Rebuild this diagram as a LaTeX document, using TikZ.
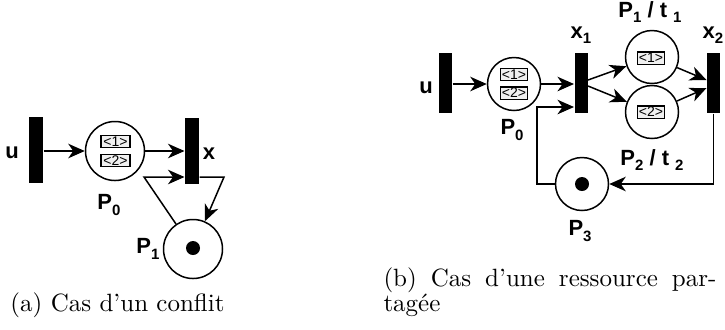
\documentclass[tikz,border=0pt]{standalone}
\usepackage{fontspec}
\newfontfamily\lab{Liberation Sans}
\usetikzlibrary{arrows.meta}
\newcommand\sbs[1]{\raisebox{-0.45ex}{\fontsize{6}{6}\selectfont #1}}
\begin{document}
\begin{tikzpicture}[x=0.4pt,y=-0.4pt,
  arr/.style={-{Stealth[length=6.6pt,width=5.8pt,inset=2pt]}, line width=0.6pt},
  barL/.style={rectangle, fill=black, inner sep=0, minimum width=5.6pt, minimum height=26.4pt},
  barR/.style={rectangle, fill=black, inner sep=0, minimum width=5.2pt, minimum height=24pt},
  placeL/.style={circle, draw, line width=0.6pt, minimum size=23.6pt, inner sep=0},
  placeR/.style={circle, draw, line width=0.6pt, minimum size=21.2pt, inner sep=0},
  tok/.style={circle, fill=black, minimum size=5.6pt, inner sep=0},
  mbox/.style={rectangle, draw, fill=gray!12, line width=0.5pt, inner sep=0, minimum height=4.9pt, font=\lab\fontsize{5.6}{5}\selectfont},
  lbl/.style={font=\lab\bfseries\fontsize{8.8}{9}\selectfont, inner sep=0},
  captxt/.style={inner sep=0, anchor=base west, font=\fontsize{10}{12}\selectfont}
]
\useasboundingbox (0,0) rectangle (725,329);
% ---------- (a) ----------
\node[barL] (uL) at (36,150) {};
\node[placeL] (P0L) at (115,151) {};
\node[mbox, minimum width=11.6pt] (b1L) at (115.5,141.5) {<1>};
\node[mbox, minimum width=11.6pt] (b2L) at (115.5,160.5) {<2>};
\node[barL] (xL) at (192,150.5) {};
\node[placeL] (P1L) at (193,249) {};
\node[tok] (tL) at (193,248) {};
\coordinate (aL) at (144,177);
\coordinate (bL) at (224,177);
\node[lbl] (luL) at (12,153) {u};
\node[lbl] (lxL) at (209,154) {x};
\node[lbl] (lP0L) at (109,205) {P\sbs{0}};
\node[lbl] (lP1L) at (148,249) {P\sbs{1}};
\draw[arr] (uL.east |- P0L) -- (P0L);
\draw[arr] (P0L) -- (xL.west |- P0L);
\draw[arr] (P1L) -- (aL) -- (aL -| xL.west);
\draw[arr] (xL.east |- bL) -- (bL) -- (P1L);
% ---------- (b) ----------
\node[barR] (uR) at (445.5,83) {};
\node[placeR] (P0R) at (514,84) {};
\node[mbox, minimum width=10.6pt] (b1R) at (514,74.5) {<1>};
\node[mbox, minimum width=10.6pt] (b2R) at (514,93) {<2>};
\node[barR] (x1) at (581,83) {};
\node[placeR] (P1R) at (652,57) {};
\node[mbox, minimum width=10.6pt] (b3R) at (651,58) {<1>};
\node[placeR] (P2R) at (652,112) {};
\node[mbox, minimum width=10.6pt] (b4R) at (651,112) {<2>};
\node[barR] (x2) at (713.5,83) {};
\node[placeR] (P3) at (582,184) {};
\node[tok] (tR) at (582,184) {};
\coordinate (cl) at (537,107);
\node[lbl] (luR) at (426,88) {u};
\node[lbl] (lP0R) at (512,130) {P\sbs{0}};
\node[lbl] (lx1) at (581,35) {x\sbs{1}};
\node[lbl] (lx2) at (713,35) {x\sbs{2}};
\node[lbl] (lP1R) at (650,12) {P\sbs{1} / t \sbs{1}};
\node[lbl] (lP2R) at (652,160) {P\sbs{2} / t \sbs{2}};
\node[lbl] (lP3) at (580,231) {P\sbs{3}};
\draw[arr] (uR.east |- P0R) -- (P0R);
\draw[arr] (P0R) -- (x1.west |- P0R);
\draw[arr] ([yshift=1.2pt]x1.east) -- (P1R);
\draw[arr] ([yshift=-1.2pt]x1.east) -- (P2R);
\draw[arr] (P1R) -- ([yshift=1.2pt]x2.west);
\draw[arr] (P2R) -- ([yshift=-2pt]x2.west);
\draw[arr] (x2.south) |- (P3);
\draw[arr] (P3.west) -| (cl) -- (cl -| x1.west);
% ---------- captions ----------
\node[captxt] (ca) at (10,311) {(a) Cas d'un conflit};
\node[captxt] (cb1) at (383,286) {\makebox[133.2pt][s]{(b) Cas d'une ressource par-}};
\node[captxt] (cb2) at (383,311) {tagée};
\end{tikzpicture}
\end{document}
